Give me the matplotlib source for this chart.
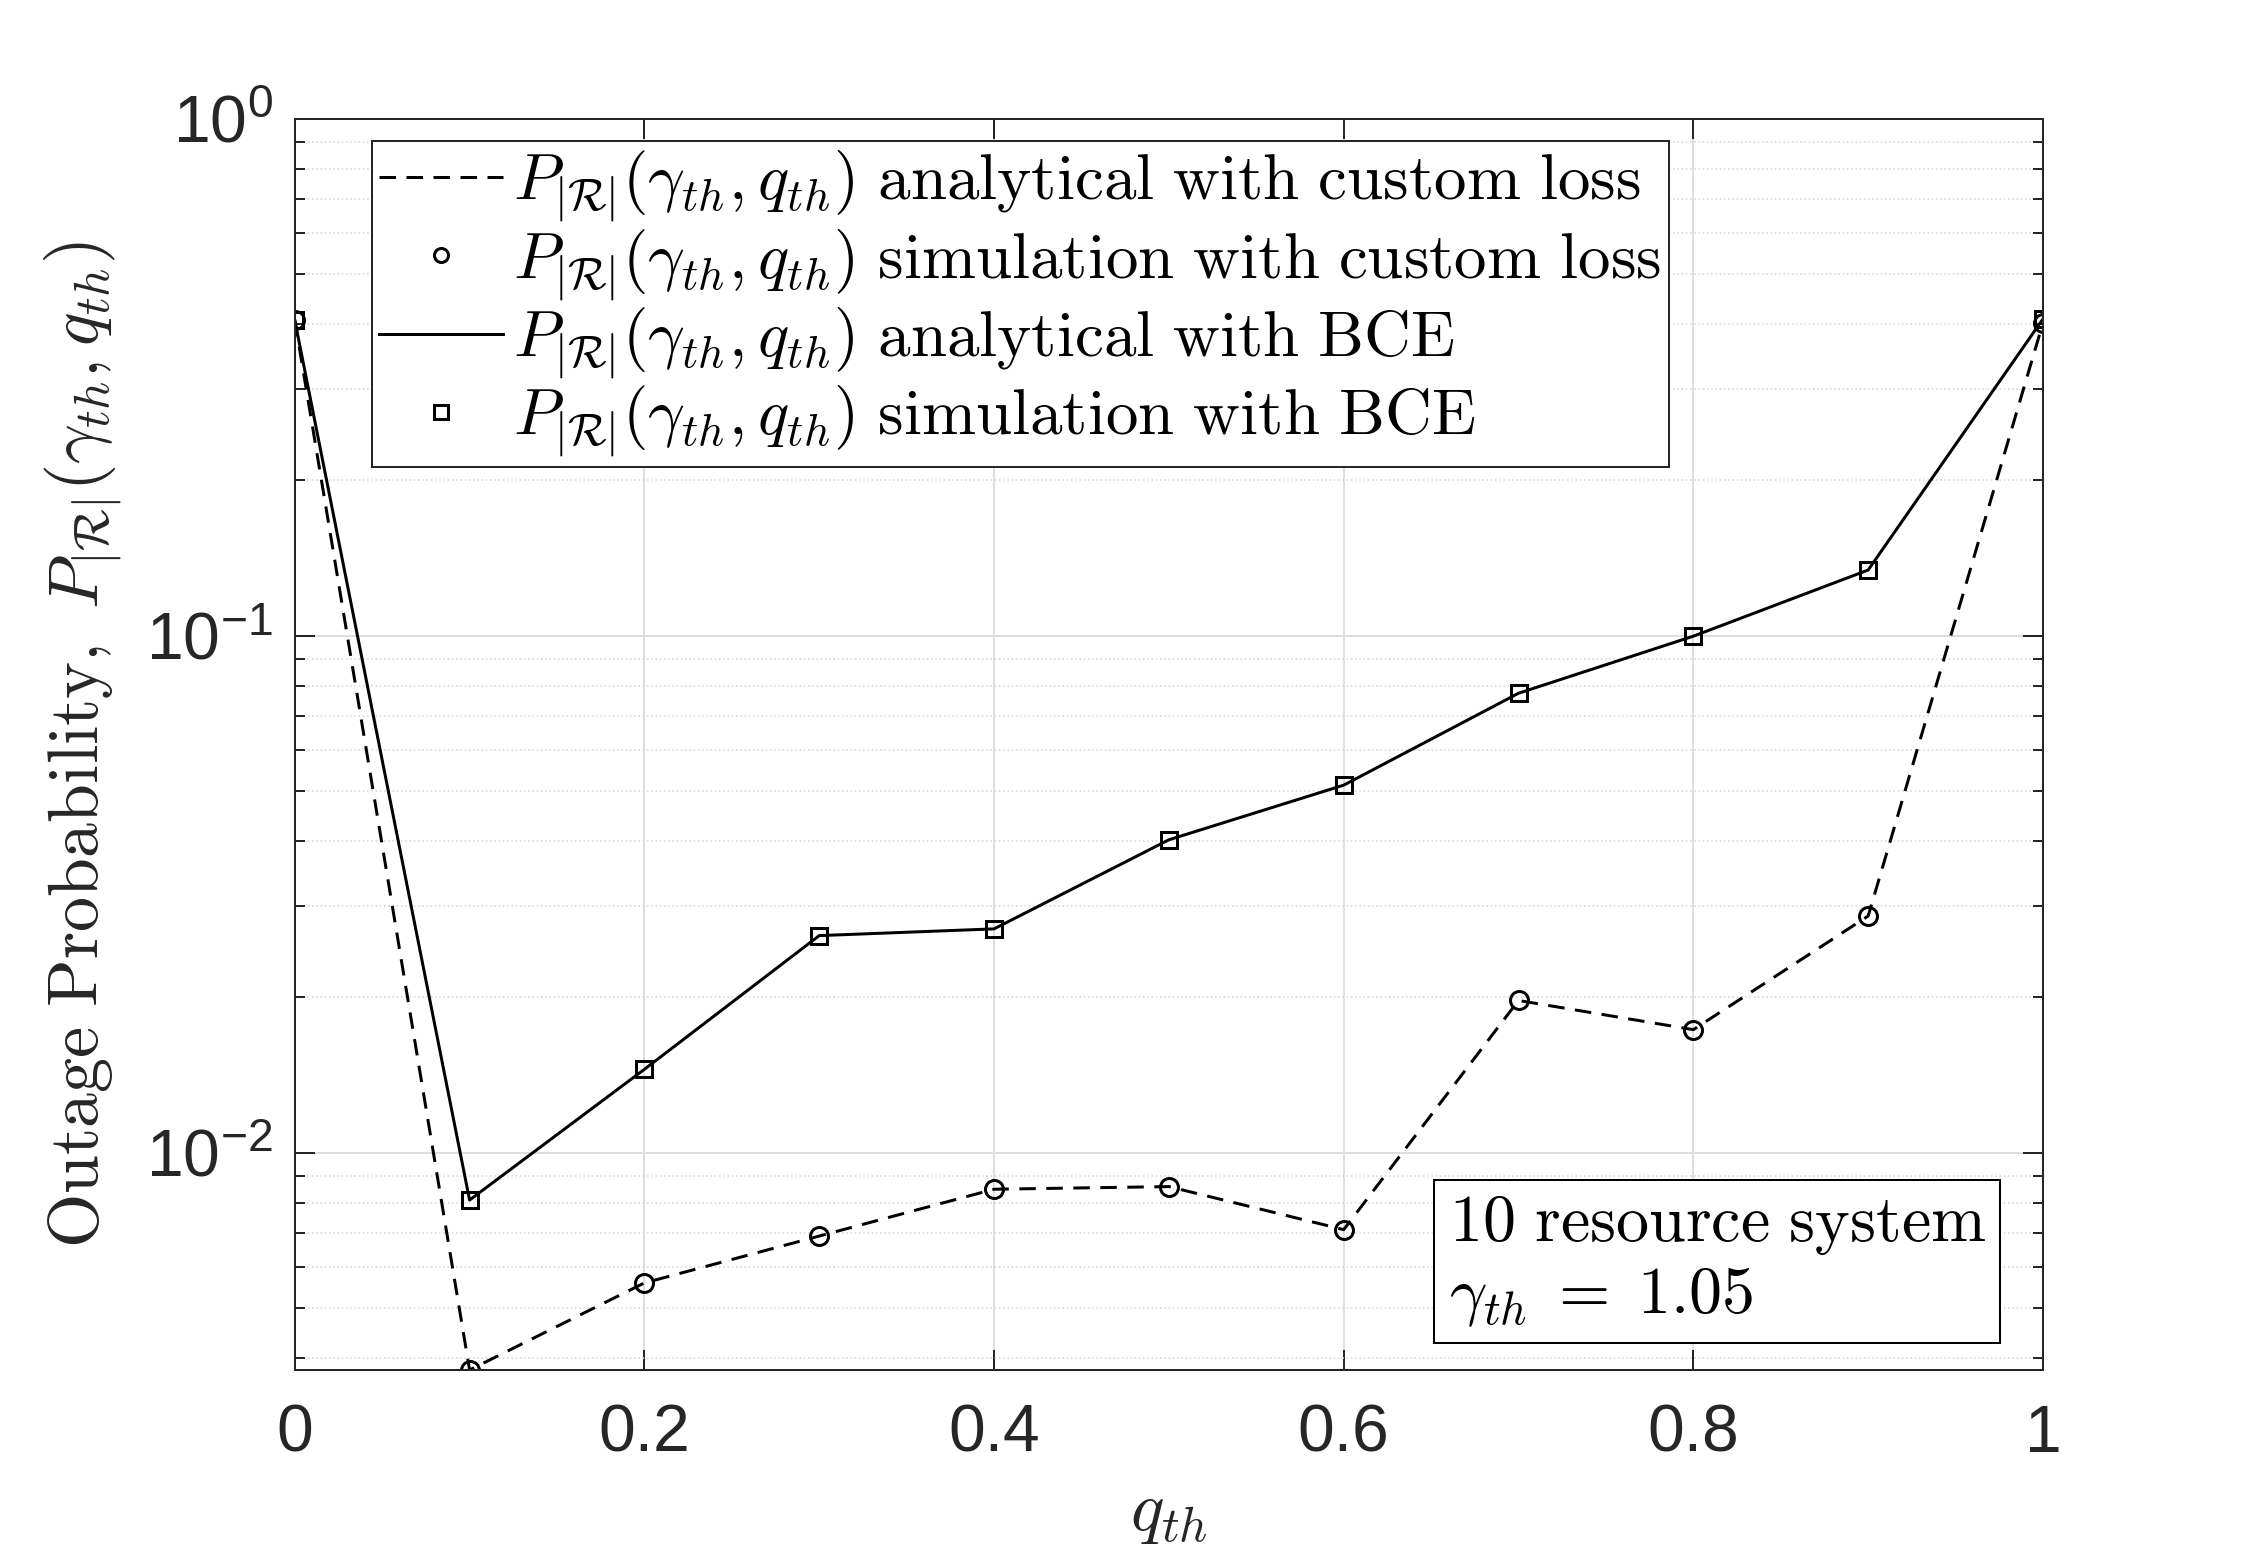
import numpy as np
import matplotlib
matplotlib.use("Agg")
import matplotlib.pyplot as plt
from matplotlib.font_manager import FontProperties
from matplotlib.ticker import LogLocator, NullFormatter

# data
q_th = [0.0, 0.1, 0.2, 0.3, 0.4, 0.5, 0.6, 0.7, 0.8, 0.9, 1.0]
p_custom = [0.408, 0.0038, 0.0056, 0.0069, 0.0085, 0.0086, 0.0071, 0.0197, 0.0173, 0.0287, 0.403]
p_bce = [0.408, 0.0081, 0.0145, 0.0263, 0.0271, 0.0403, 0.0514, 0.0774, 0.0998, 0.134, 0.41]
x_ticks = [0, 0.2, 0.4, 0.6, 0.8, 1]
x_ticklabels = ['0', '0.2', '0.4', '0.6', '0.8', '1']

plt.rcParams['font.family'] = 'Liberation Sans'
plt.rcParams['axes.unicode_minus'] = False
plt.rcParams['mathtext.fontset'] = 'custom'
plt.rcParams['mathtext.rm'] = 'Liberation Sans'
plt.rcParams['mathtext.it'] = 'Liberation Sans:italic'
plt.rcParams['mathtext.bf'] = 'Liberation Sans:bold'

dpi = 144
fig = plt.figure(figsize=(2250 / dpi, 1562 / dpi), dpi=dpi)
ax = fig.add_axes([0.131, 0.123, 0.777, 0.801])

axcol = '#262626'
dash = (5.5, 3.5)

# analytical curves
ax.plot(q_th, p_custom, color='black', lw=1.5, dashes=dash)
ax.plot(q_th, p_bce, color='black', lw=1.5)
# simulation markers
ax.plot(q_th, p_custom, 'o', color='black', mfc='none', ms=9, mew=1.5)
ax.plot(q_th, p_bce, 's', color='black', mfc='none', ms=8, mew=1.5)

ax.set_yscale('log')
ax.set_xlim(0, 1)
ax.set_ylim(10 ** -2.42, 1)
ax.set_xticks(x_ticks)
ax.set_xticklabels(x_ticklabels)
ax.yaxis.set_major_locator(LogLocator(base=10, numticks=10))
ax.yaxis.set_minor_locator(LogLocator(base=10, subs=np.arange(2, 10), numticks=20))
ax.yaxis.set_minor_formatter(NullFormatter())

ax.grid(True, which='major', color='#dedede', lw=1.0)
ax.grid(True, which='minor', axis='y', color='#d8d8d8', lw=0.8, ls=':')
ax.set_axisbelow(True)

ax.tick_params(which='both', direction='in', top=True, right=True, colors=axcol,
               labelsize=33, width=1.0)
ax.tick_params(which='major', length=10)
ax.tick_params(which='minor', length=5)
ax.tick_params(axis='x', which='major', pad=17)
ax.tick_params(axis='y', which='major', pad=11)
for sp in ax.spines.values():
    sp.set_color(axcol)
    sp.set_linewidth(1.0)

cm_lab = FontProperties(family='cmr10', size=35, math_fontfamily='cm')
ax.set_xlabel(r'$q_{th}$', fontproperties=cm_lab, color=axcol, labelpad=8)
ax.set_ylabel(r'$\mathrm{Outage\ Probability,}\ P_{|\mathcal{R}|}(\gamma_{th},q_{th})$',
              fontproperties=cm_lab, color=axcol, labelpad=10)

# legend handles
h1, = ax.plot([], [], color='black', lw=1.5, dashes=dash)
h2, = ax.plot([], [], 'o', color='black', mfc='none', ms=7, mew=1.5)
h3, = ax.plot([], [], color='black', lw=1.5)
h4, = ax.plot([], [], 's', color='black', mfc='none', ms=7, mew=1.5)
base = r'$P_{|\mathcal{R}|}(\gamma_{th},q_{th})\ \mathrm{%s}$'
labels = [base % r'analytical\ with\ custom\ loss',
          base % r'simulation\ with\ custom\ loss',
          base % r'analytical\ with\ BCE',
          base % r'simulation\ with\ BCE']
leg_prop = FontProperties(family='cmr10', size=32.5, math_fontfamily='cm')
leg = ax.legend([h1, h2, h3, h4], labels, prop=leg_prop, loc='upper left',
                bbox_to_anchor=(0.044, 0.982), borderaxespad=0, fancybox=False,
                framealpha=1, edgecolor=axcol, handlelength=1.9, handletextpad=0.15,
                labelspacing=0.05, borderpad=0.12)
leg.get_frame().set_linewidth(1.0)

box_prop = FontProperties(family='cmr10', size=33, math_fontfamily='cm')
ax.text(0.66, 0.033, '$\\mathrm{10\\ resource\\ system}$\n$\\gamma_{th}\\;=\\;1.05$',
        transform=ax.transAxes, fontproperties=box_prop, ha='left', va='bottom',
        linespacing=1.15,
        bbox=dict(boxstyle='square,pad=0.22', fc='white', ec='black', lw=1.0))

fig.savefig('out.png', dpi=dpi, facecolor='white')
